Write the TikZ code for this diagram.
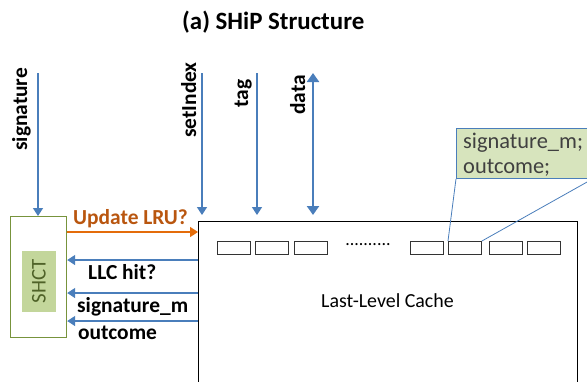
\documentclass[tikz,border=0pt]{standalone}
\usepackage{fontspec}
\setmainfont{Carlito}
\usetikzlibrary{arrows.meta}
\definecolor{lineblue}{HTML}{4A7EBB}
\definecolor{lruorange}{HTML}{E46C0A}
\definecolor{lrutext}{HTML}{B9560F}
\definecolor{shctborder}{HTML}{77933C}
\definecolor{shctfill}{HTML}{C3D69B}
\definecolor{shcttext}{HTML}{4F6228}
\definecolor{notefill}{HTML}{D7E4BD}
\newcommand\lblfont{\fontsize{21.5}{25}\selectfont\bfseries}
\tikzstyle{wire} = [lineblue, line width=1.5bp, -{Triangle[length=8bp,width=10bp]}]
\tikzstyle{lbl} = [inner sep=0pt, font=\lblfont]
\tikzstyle{slot} = [draw=black!80, line width=0.9bp, minimum width=33bp, minimum height=13bp, inner sep=0pt, anchor=north west]

\begin{document}
\begin{tikzpicture}[x=1bp, y=-1bp]
	    \useasboundingbox (0,0) rectangle (587,381);

	    \node[inner sep=0pt, anchor=base west, font=\fontsize{25}{29}\selectfont\bfseries] (title) at (182,29) {(a) SHiP Structure};

	    % SHCT and the cache
	    \node[draw=shctborder, line width=1.2bp, minimum width=56bp, minimum height=121bp, anchor=north west] (shct) at (10,216) {};
	    \node[fill=shctfill, minimum width=34bp, minimum height=61bp, inner sep=0pt] (shctin) at (39,281.5) {};
	    \node[rotate=90, inner sep=0pt, text=shcttext, font=\fontsize{21}{25}\selectfont] (shcttxt) at (shctin) {SHCT};
	    \node[draw, line width=1.2bp, minimum width=379bp, minimum height=200bp, anchor=north west] (llc) at (198,221) {};
	    \node[inner sep=0pt, anchor=base west, font=\fontsize{20}{24}\selectfont] (llctxt) at (321,307) {Last-Level Cache};

	    % cache lines
	    \foreach \n/\x in {1/217,2/255,3/294,4/410,5/448,6/489,7/527}
	        \node[slot] (s\n) at (\x,241) {};
	    \node[inner sep=0pt, font=\fontsize{18}{22}\selectfont] (dots) at (368,245) {..........};

	    % inputs from the top
	    \coordinate (sigtop) at (38,73);
	    \coordinate (sitop) at (202,73);
	    \coordinate (tagtop) at (257,73);
	    \coordinate (datatop) at (313,73);
	    \draw[wire] (sigtop) -- (sigtop |- shct.north);
	    \draw[wire] (sitop) -- (202,215);
	    \draw[wire] (tagtop) -- (257,215);
	    \draw[lineblue, line width=2.6bp, {Triangle[length=9bp,width=12bp]}-{Triangle[length=9bp,width=12bp]}] (datatop) -- (313,215);

	    \node[lbl, rotate=90, anchor=base west] (siglbl) at (27,151) {signature};
	    \node[lbl, rotate=90, anchor=base west] (silbl) at (196,138) {setIndex};
	    \node[lbl, rotate=90, anchor=base west] (taglbl) at (248,108) {tag};
	    \node[lbl, rotate=90, anchor=base west] (datalbl) at (305,115) {data};

	    % between SHCT and the cache
	    \draw[lruorange, line width=1.5bp, -{Triangle[length=8bp,width=10bp]}] (shct.east |- 0,232) -- (llc.west |- 0,232);
	    \node[lbl, anchor=base west, text=lrutext] (lru) at (73,224) {Update LRU?};
	    \draw[wire] (llc.west |- 0,260) -- (shct.east |- 0,260);
	    \node[lbl, anchor=base west] (hit) at (88,279) {LLC hit?};
	    \draw[wire] (llc.west |- 0,293) -- (shct.east |- 0,293);
	    \node[lbl, anchor=base west] (sigm) at (77,312) {signature\_m};
	    \draw[wire] (llc.west |- 0,321) -- (shct.east |- 0,321);
	    \node[lbl, anchor=base west] (outc) at (78,339) {outcome};

	    % callout of one cache line
	    \node[draw=lineblue, fill=notefill, line width=0.8bp, minimum width=136bp, minimum height=50bp, anchor=north west] (note) at (456,128) {};
	    \node[inner sep=0pt, anchor=base west, align=left, text=black!75, font=\fontsize{22.5}{25}\selectfont] (notetxt) at (463,173) {signature\_m;\\outcome;};
	    \draw[lineblue, line width=0.8bp] (note.south west) -- (s5.north west);
	    \draw[lineblue, line width=0.8bp] (note.south east) -- (s5.north east);
	\end{tikzpicture}
\end{document}
